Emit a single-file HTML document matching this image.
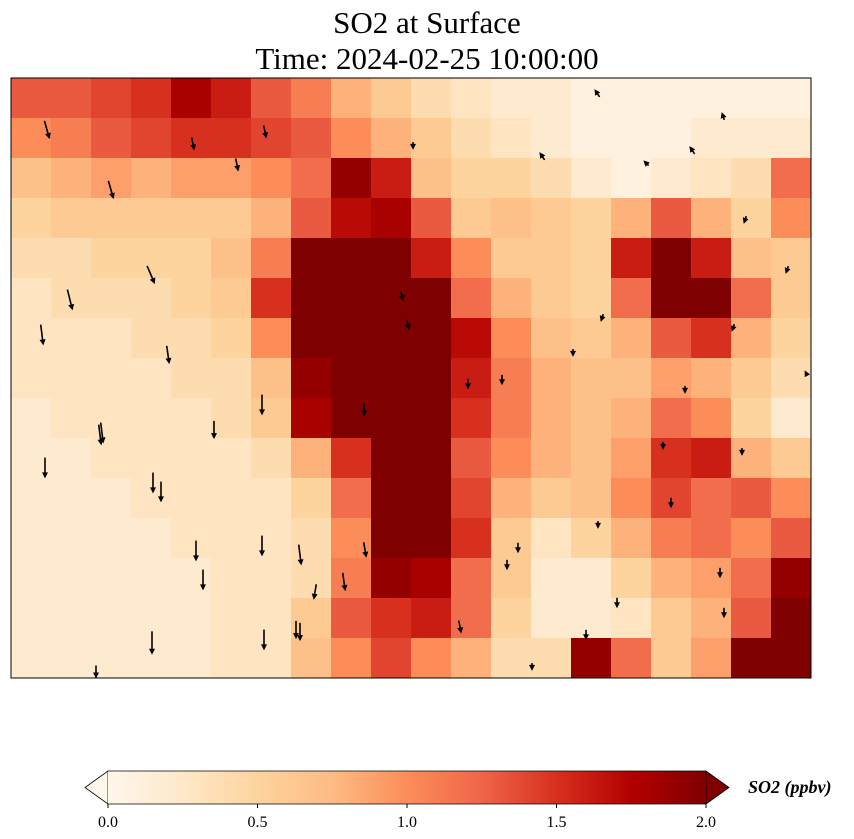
<!DOCTYPE html>
<html><head><meta charset="utf-8"><style>
body{margin:0;background:#fff;width:854px;height:839px;overflow:hidden}
svg{display:block;font-family:"Liberation Serif",serif}
</style></head><body>
<svg id="chart" width="854" height="839" viewBox="0 0 854 839">
<defs>
<linearGradient id="cb" x1="0" x2="1" y1="0" y2="0">
<stop offset="0" stop-color="#fff7ec"/><stop offset="0.125" stop-color="#fee8c8"/><stop offset="0.25" stop-color="#fdd49e"/><stop offset="0.375" stop-color="#fdbb84"/><stop offset="0.5" stop-color="#fc8d59"/><stop offset="0.625" stop-color="#ef6548"/><stop offset="0.75" stop-color="#d7301f"/><stop offset="0.875" stop-color="#b30000"/><stop offset="1" stop-color="#7f0000"/>
</linearGradient>
<clipPath id="mapclip"><rect x="11" y="78" width="800" height="600"/></clipPath>
</defs>
<text x="427" y="33" font-size="31" text-anchor="middle">SO2 at Surface</text>
<text x="427" y="69" font-size="31" text-anchor="middle">Time: 2024-02-25 10:00:00</text>
<g id="cells" clip-path="url(#mapclip)"></g>
<g id="arrows" clip-path="url(#mapclip)"></g>
<rect x="11" y="78" width="800" height="600" fill="none" stroke="#000" stroke-width="1"/>
<g>
<polygon points="108,771 108,804 85,787.5" fill="#fff7ec" stroke="#000" stroke-width="0.8"/>
<polygon points="706,771 706,804 729,787.5" fill="#7f0000" stroke="#000" stroke-width="0.8"/>
<rect x="108" y="771" width="598" height="33" fill="url(#cb)"/>
<polyline points="108,771 706,771" stroke="#000" stroke-width="0.8"/>
<polyline points="108,804 706,804" stroke="#000" stroke-width="0.8"/>
<g id="cbticks"></g>
<text x="748" y="793" font-size="18" font-weight="bold" font-style="italic">SO2 (ppbv)</text>
</g>
</svg>
<script>
const rowsY=[98,138,178,218,258,298,338,378,418,458,498,538,578,618,658];
const so2Grid=[
[1.3,1.3,1.4,1.5,1.8,1.6,1.3,1.1,0.8,0.6,0.4,0.3,0.2,0.2,0.1,0.1,0.1,0.1,0.1,0.1],
[1.0,1.1,1.3,1.4,1.5,1.5,1.4,1.3,1.0,0.8,0.6,0.4,0.3,0.2,0.1,0.1,0.1,0.2,0.2,0.2],
[0.7,0.8,0.9,0.8,0.9,0.9,1.0,1.2,1.9,1.6,0.7,0.5,0.5,0.4,0.2,0.1,0.2,0.3,0.4,1.2],
[0.5,0.6,0.6,0.6,0.6,0.6,0.8,1.3,1.7,1.8,1.3,0.6,0.7,0.6,0.5,0.8,1.3,0.8,0.5,1.0],
[0.4,0.4,0.5,0.5,0.5,0.7,1.1,2.0,2.0,2.0,1.6,1.0,0.6,0.6,0.5,1.6,2.0,1.6,0.7,0.6],
[0.3,0.4,0.4,0.4,0.5,0.6,1.5,2.0,2.0,2.0,2.0,1.2,0.8,0.6,0.5,1.2,2.0,2.0,1.2,0.6],
[0.3,0.3,0.3,0.4,0.4,0.5,1.0,2.0,2.0,2.0,2.0,1.7,1.0,0.7,0.6,0.8,1.3,1.5,0.8,0.5],
[0.3,0.3,0.3,0.3,0.4,0.4,0.7,1.9,2.0,2.0,2.0,1.6,1.1,0.8,0.7,0.7,0.9,0.8,0.6,0.4],
[0.2,0.3,0.3,0.3,0.3,0.4,0.6,1.8,2.0,2.0,2.0,1.5,1.1,0.8,0.7,0.8,1.2,1.0,0.5,0.2],
[0.2,0.2,0.3,0.3,0.3,0.3,0.4,0.8,1.5,2.0,2.0,1.3,1.0,0.8,0.7,0.9,1.5,1.6,0.8,0.6],
[0.2,0.2,0.2,0.3,0.3,0.3,0.3,0.5,1.2,2.0,2.0,1.4,0.8,0.6,0.7,1.0,1.4,1.2,1.3,1.0],
[0.2,0.2,0.2,0.2,0.3,0.3,0.3,0.4,1.0,2.0,2.0,1.5,0.6,0.3,0.5,0.8,1.1,1.2,1.0,1.3],
[0.2,0.2,0.2,0.2,0.2,0.3,0.3,0.4,1.1,1.9,1.8,1.2,0.6,0.2,0.2,0.5,0.8,0.9,1.2,1.9],
[0.2,0.2,0.2,0.2,0.2,0.3,0.3,0.6,1.3,1.5,1.6,1.2,0.5,0.2,0.2,0.3,0.6,0.8,1.3,2.0],
[0.2,0.2,0.2,0.2,0.2,0.3,0.3,0.7,1.0,1.4,1.0,0.8,0.4,0.4,1.9,1.2,0.6,0.9,2.0,2.0]
];
const arrowX=[47,111,151,193,237,265,413,542,597,646,692,723,745,787,70,42,100,153,168,214,262,300,364,402,408,468,502,573,602,663,685,733,742,806,45,102,161,196,203,262,296,315,365,460,518,507,598,617,671,720,724,152,264,300,344,586,532,96];
const arrowY=[130,190,275,144,165,132,146,156,93,163,150,116,220,270,300,335,435,483,355,430,546,555,410,296,325,384,380,353,318,446,390,328,452,373,468,433,492,551,580,405,630,592,550,627,548,565,525,603,503,573,613,643,640,632,582,635,667,672];
const arrowU=[2,2,3,1,1,1,0,-2,-2,-2,-2,-1,-1,-1,2,1,1,0,1,0,0,1,0,1,1,0,0,0,-1,0,0,-1,0,-1,0,1,0,0,0,0,0,-1,1,1,0,0,0,0,0,0,0,0,0,0,1,0,0,0];
const arrowV=[7,7,7,5,5,5,3,-3,-3,-2,-3,-3,3,3,8,8,8,8,7,7,8,8,5,4,4,4,4,3,3,3,3,3,3,-2,8,8,8,8,8,8,7,6,6,5,4,4,3,4,4,4,4,9,8,7,7,4,3,5];
const cbTicks=[0,0.5,1.0,1.5,2.0];
const cbLabels=["0.0","0.5","1.0","1.5","2.0"];
const stops=["#fff7ec","#fee8c8","#fdd49e","#fdbb84","#fc8d59","#ef6548","#d7301f","#b30000","#7f0000"];
function hex(c){return [1,3,5].map(i=>parseInt(c.substr(i,2),16));}
function cmap(v){let t=Math.max(0,Math.min(1,v/2))*8;let i=Math.min(7,Math.floor(t));let f=t-i;let a=hex(stops[i]),b=hex(stops[i+1]);return "rgb("+a.map((x,k)=>Math.round(x+(b[k]-x)*f)).join(",")+")";}
const NS="http://www.w3.org/2000/svg";
const x0=11,y0=78,cw=40,ch=40;
function xs(col){return x0+col*cw;}
function ys(row){return rowsY[row]-ch/2;}
const cells=document.getElementById('cells');
so2Grid.forEach((row,r)=>row.forEach((v,c)=>{
 const el=document.createElementNS(NS,'rect');
 
 
 el.setAttribute('x',xs(c));el.setAttribute('y',ys(r));
 el.setAttribute('width',cw+0.5);el.setAttribute('height',ch+0.5);
 el.setAttribute('fill',cmap(v));
 cells.appendChild(el);
}));
const ag=document.getElementById('arrows');
arrowX.forEach((x,i)=>{
 const y=arrowY[i],u=arrowU[i]*2.6,v=arrowV[i]*2.6;
 const L=Math.hypot(u,v)||1,dx=u/L,dy=v/L;
 const x1=x-u/2,y1=y-v/2,x2=x+u/2,y2=y+v/2;
 const g=document.createElementNS(NS,'g');
 
 
 const ln=document.createElementNS(NS,'line');
 ln.setAttribute('x1',x1);ln.setAttribute('y1',y1);ln.setAttribute('x2',x2-dx*4);ln.setAttribute('y2',y2-dy*4);
 ln.setAttribute('stroke','#000');ln.setAttribute('stroke-width','1.6');
 const hd=document.createElementNS(NS,'polygon');
 const bx=x2-dx*6,by=y2-dy*6;
 hd.setAttribute('points',x2+','+y2+' '+(bx-dy*3)+','+(by+dx*3)+' '+(bx+dy*3)+','+(by-dx*3));
 hd.setAttribute('fill','#000');
 g.appendChild(ln);g.appendChild(hd);ag.appendChild(g);
});
const tg=document.getElementById('cbticks');
function cbx(v){return 108+v/2*598;}
cbTicks.forEach((v,i)=>{
 const t=document.createElementNS(NS,'line');
 
 
 t.setAttribute('x1',cbx(v));t.setAttribute('x2',cbx(v));t.setAttribute('y1',804);t.setAttribute('y2',808);
 t.setAttribute('stroke','#000');
 tg.appendChild(t);
 const tx=document.createElementNS(NS,'text');
 
 
 tx.setAttribute('x',cbx(v));tx.setAttribute('y',827);tx.setAttribute('font-size','16');tx.setAttribute('text-anchor','middle');
 tx.textContent=cbLabels[i];
 tg.appendChild(tx);
});
</script>
</body></html>
